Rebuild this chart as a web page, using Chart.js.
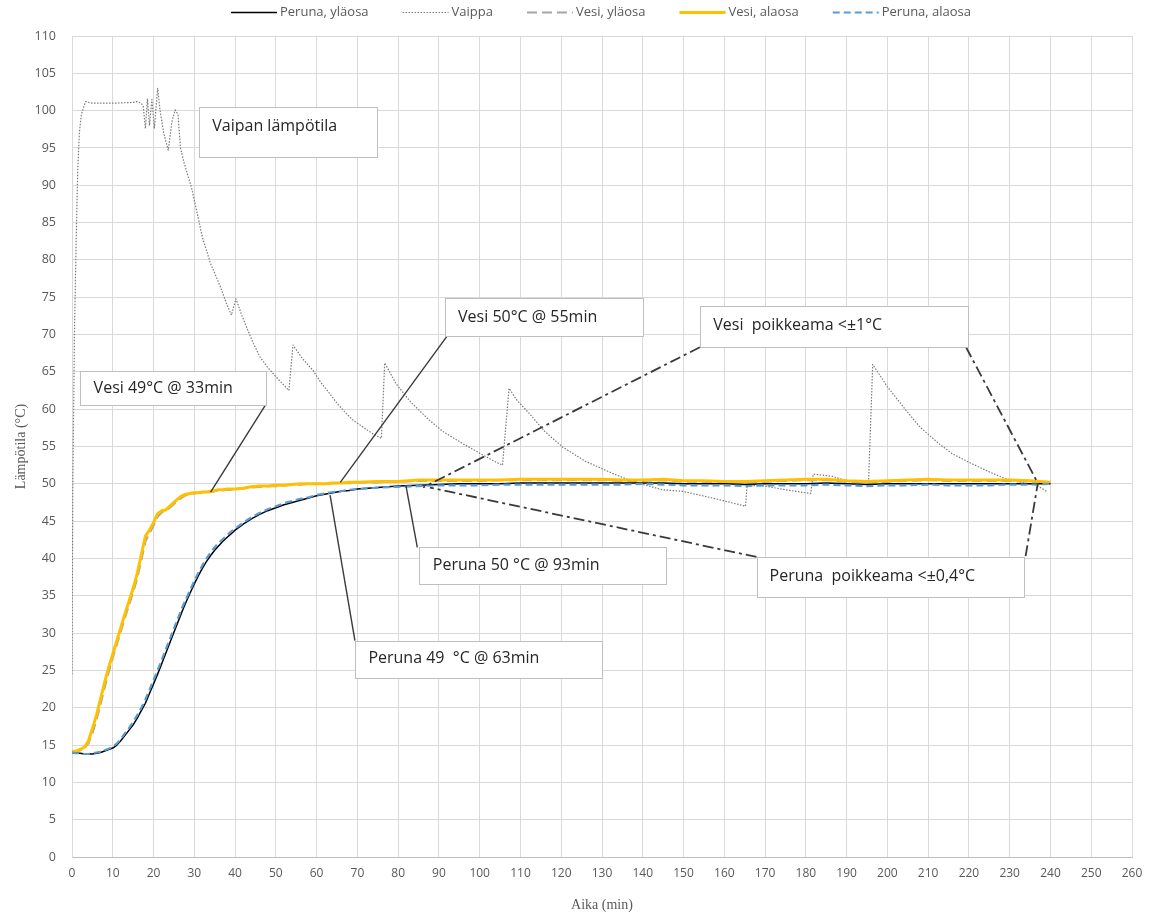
<!DOCTYPE html>
<html lang="fi">
<head>
<meta charset="utf-8">
<title>Lämpötila</title>
<script src="https://cdn.jsdelivr.net/npm/chart.js@4.4.1/dist/chart.umd.min.js"></script>
<style>
  html, body { margin: 0; padding: 0; background: #ffffff; }
  canvas { display: block; }
</style>
</head>
<body>
<canvas id="kaavio" width="1154" height="917"></canvas>
<script>
// Mittausajat (min) perunan ja veden antureille
const aika = [
  0,1,2,3,4,5,6,7,8,9,10,11,12,13,14,15,16,17,18,19,20,21,22,23,24,25,26,27,28,29,30,31,32,33,34,35,36,37,38,39,40,
  42,44,46,48,50,52,54,56,58,60,62,64,66,68,70,
  75,80,85,90,95,100,105,110,115,120,125,130,135,140,145,150,155,160,165,170,175,180,185,190,195,200,205,210,215,220,225,230,235,240
];

// Lämpötilat (°C)
const perunaYlaosa = [
  14.0,13.9,13.9,13.8,13.8,13.8,13.9,14.0,14.2,14.4,14.6,15.0,15.6,16.3,17.0,17.7,18.6,19.6,20.6,21.9,23.2,24.5,25.9,27.3,28.7,30.1,31.5,32.9,34.2,35.4,36.6,37.7,38.7,39.6,40.4,41.1,41.7,42.3,42.8,43.3,43.8,
  44.6,45.3,45.9,46.4,46.8,47.2,47.5,47.8,48.1,48.4,48.6,48.8,49.0,49.1,49.3,
  49.5,49.7,49.8,49.9,50.0,50.0,50.0,50.1,50.1,50.1,50.1,50.1,50.1,50.1,50.1,50.0,50.0,50.0,49.9,50.0,50.0,50.0,50.1,50.0,49.9,50.0,50.0,50.0,50.0,50.0,50.0,50.0,50.0,50.0
];

const vesiYlaosa = [
  14.0,14.1,14.3,14.6,15.2,16.6,18.4,20.5,22.7,24.8,26.7,28.5,30.3,32.1,33.8,35.5,37.4,39.8,42.3,43.4,44.4,45.6,46.2,46.4,46.8,47.3,47.8,48.2,48.5,48.6,48.7,48.8,48.8,48.9,48.9,49.0,49.1,49.1,49.2,49.2,49.3,
  49.4,49.5,49.6,49.7,49.7,49.8,49.9,49.9,50.0,50.0,50.0,50.1,50.1,50.1,50.2,
  50.2,50.3,50.4,50.4,50.4,50.4,50.5,50.5,50.5,50.5,50.5,50.5,50.4,50.4,50.5,50.3,50.3,50.2,50.2,50.3,50.4,50.5,50.5,50.3,50.2,50.3,50.4,50.5,50.4,50.4,50.4,50.4,50.3,50.1
];

const vesiAlaosa = [
  14.1,14.2,14.4,14.7,15.5,17.2,19.0,21.2,23.4,25.4,27.2,29.0,30.8,32.6,34.3,36.0,38.0,40.5,43.0,43.8,44.8,46.0,46.4,46.5,47.0,47.5,48.0,48.4,48.6,48.7,48.8,48.8,48.9,48.9,49.0,49.1,49.2,49.2,49.3,49.3,49.3,
  49.4,49.6,49.7,49.7,49.8,49.8,49.9,50.0,50.0,50.0,50.0,50.1,50.1,50.2,50.2,
  50.3,50.3,50.5,50.5,50.5,50.5,50.5,50.6,50.6,50.6,50.6,50.6,50.5,50.5,50.6,50.4,50.4,50.3,50.3,50.4,50.5,50.6,50.6,50.4,50.3,50.4,50.5,50.6,50.5,50.5,50.5,50.5,50.4,50.2
];

const perunaAlaosa = [
  14.0,13.9,13.9,13.8,13.8,13.9,14.0,14.1,14.3,14.5,14.8,15.2,15.8,16.6,17.3,18.1,19.0,20.0,21.1,22.4,23.7,25.0,26.4,27.8,29.2,30.6,32.0,33.4,34.6,35.8,37.0,38.1,39.1,40.0,40.8,41.5,42.1,42.6,43.1,43.6,44.0,
  44.8,45.5,46.1,46.6,47.0,47.4,47.7,48.0,48.2,48.5,48.7,48.9,49.0,49.2,49.3,
  49.5,49.6,49.7,49.8,49.8,49.8,49.9,49.9,49.9,49.9,49.9,49.9,49.9,50.0,49.9,49.8,49.8,49.8,49.7,49.8,49.8,49.8,49.9,49.8,49.7,49.8,49.8,49.9,49.8,49.8,49.8,49.9,49.9,50.0
];

// Vaipan lämpötila omilla mittausajoillaan
const vaippaAika = [
  0,0.2,0.6,1.0,1.4,1.8,2.3,3.3,5,10,15,16,17,17.5,18,18.5,19,19.6,20.2,21,21.6,22.5,23.6,24.5,25.3,26,26.6,27.5,
  29.4,31,32,34,36.4,38,39.1,40.2,41.5,42.8,44.5,46.1,48,50.1,53.2,54.2,56.5,59.1,61,63.2,65,67.3,69,71.4,73.5,75.9,
  76.7,79.5,83,87.7,91,95.8,100,104,105.6,107.2,109,112.2,116,120.4,126,132.6,138,144.9,149.7,157.9,165.2,165.6,170,175,
  181.2,181.8,186.6,190.3,194.8,195.4,196.4,200,204.5,208,212.6,216,220.7,225,228.9,232,236.6,239.3
];
const vaippa = [
  24.5,50,70,82,92,97,99.5,101.2,101.0,101.0,101.1,101.2,101.0,100.5,97.6,101.6,98.0,101.5,97.6,103.0,100.0,97.0,94.7,98.5,100.1,99.5,95.0,93.0,
  89.5,85.5,83.0,79.5,76.4,74.0,72.6,74.8,72.8,71.0,68.8,67.0,65.6,64.3,62.5,68.6,66.8,65.2,63.6,62.1,60.8,59.4,58.5,57.6,56.8,56.1,
  66.2,63.4,61.0,58.5,57.0,55.4,54.1,52.9,52.5,62.8,61.3,59.4,57.0,54.9,53.0,51.4,50.2,49.2,49.0,48.0,47.0,49.8,49.7,49.2,
  48.7,51.3,51.0,50.3,50.3,50.5,66.0,63.0,59.9,57.6,55.4,54.0,52.7,51.6,50.7,50.3,49.8,48.9
];

// Akselien rajat ja välit
const aikaAkseli = { min: 0, max: 260, vali: 10 };
const lampoAkseli = { min: 0, max: 110, vali: 5 };

// Selitelaatikot: laatikon kulmat [x0, yYlä, x1, yAla], tekstin alku ja osoitinviivat arvoina
const huomautukset = [
  { teksti: 'Vaipan lämpötila', laatikko: [31.2, 100.5, 74.8, 93.8], kohta: [34.4, 97.9], viivat: [], tyyli: 'yhtenainen' },
  { teksti: 'Vesi 49°C @ 33min', laatikko: [2.0, 65.1, 47.7, 60.5], kohta: [5.3, 62.8], viivat: [[47.4, 60.5, 34.0, 48.9]], tyyli: 'yhtenainen' },
  { teksti: 'Vesi 50°C @ 55min', laatikko: [91.5, 74.9, 140.0, 69.8], kohta: [94.7, 72.3], viivat: [[92.0, 69.8, 65.8, 50.2]], tyyli: 'yhtenainen' },
  { teksti: 'Vesi  poikkeama <±1°C', laatikko: [154.0, 73.8, 219.7, 68.3], kohta: [157.3, 71.2], viivat: [[154.0, 68.3, 86.1, 49.5], [219.3, 68.3, 236.9, 50.1]], tyyli: 'pistekatko' },
  { teksti: 'Peruna 50 °C @ 93min', laatikko: [85.0, 41.5, 145.7, 36.6], kohta: [88.5, 39.1], viivat: [[84.7, 41.5, 81.9, 49.8]], tyyli: 'yhtenainen' },
  { teksti: 'Peruna  poikkeama <±0,4°C', laatikko: [167.9, 40.2, 233.4, 34.8], kohta: [171.1, 37.6], viivat: [[167.9, 40.2, 87.8, 49.5], [233.9, 40.3, 236.9, 50.1]], tyyli: 'pistekatko' },
  { teksti: 'Peruna 49  °C @ 63min', laatikko: [69.3, 29.0, 129.9, 24.0], kohta: [72.7, 26.6], viivat: [[69.4, 29.0, 63.3, 48.5]], tyyli: 'yhtenainen' }
];

const pisteet = (xs, ys) => xs.map((x, i) => ({ x: x, y: ys[i] }));

const FONTTI = '"Open Sans", "Liberation Sans", sans-serif';
const SERIF = '"Liberation Serif", "DejaVu Serif", serif';
Chart.defaults.font.family = FONTTI;
Chart.defaults.color = '#595959';

// Huomautuslaatikot ja osoitinviivat piirretään sarjojen päälle
const huomautusPiirto = {
  id: 'huomautukset',
  afterDatasetsDraw(chart) {
    const { ctx, scales: { x, y } } = chart;
    ctx.save();
    huomautukset.forEach(h => {
      h.viivat.forEach(v => {
        ctx.beginPath();
        if (h.tyyli === 'pistekatko') {
          ctx.setLineDash([11, 4, 3, 4]);
          ctx.lineWidth = 1.8;
        } else {
          ctx.setLineDash([]);
          ctx.lineWidth = 1.4;
        }
        ctx.strokeStyle = '#3a3a3a';
        ctx.moveTo(x.getPixelForValue(v[0]), y.getPixelForValue(v[1]));
        ctx.lineTo(x.getPixelForValue(v[2]), y.getPixelForValue(v[3]));
        ctx.stroke();
      });
    });
    ctx.setLineDash([]);
    huomautukset.forEach(h => {
      const x0 = Math.round(x.getPixelForValue(h.laatikko[0])) + 0.5;
      const y0 = Math.round(y.getPixelForValue(h.laatikko[1])) + 0.5;
      const x1 = Math.round(x.getPixelForValue(h.laatikko[2])) + 0.5;
      const y1 = Math.round(y.getPixelForValue(h.laatikko[3])) + 0.5;
      ctx.fillStyle = '#ffffff';
      ctx.fillRect(x0, y0, x1 - x0, y1 - y0);
      ctx.strokeStyle = '#bfbfbf';
      ctx.lineWidth = 1;
      ctx.strokeRect(x0, y0, x1 - x0, y1 - y0);
      ctx.fillStyle = '#262626';
      ctx.font = '16px ' + FONTTI;
      ctx.textAlign = 'left';
      ctx.textBaseline = 'middle';
      ctx.fillText(h.teksti, x.getPixelForValue(h.kohta[0]), y.getPixelForValue(h.kohta[1]));
    });
    ctx.restore();
  }
};

// Selite ylälaitaan sarjojen viivatyyleillä
const selitePiirto = {
  id: 'selite',
  afterDraw(chart) {
    const ctx = chart.ctx;
    const sarjat = chart.data.datasets;
    ctx.save();
    ctx.font = '13px ' + FONTTI;
    const naytePituus = 46, vali = 3, erotin = 34;
    const leveydet = sarjat.map(d => ctx.measureText(d.label).width);
    const kokonais = leveydet.reduce((a, b) => a + b, 0) + sarjat.length * (naytePituus + vali) + (sarjat.length - 1) * erotin;
    let xp = 601 - kokonais / 2;
    const yp = 12.5;
    sarjat.forEach((d, i) => {
      ctx.beginPath();
      ctx.setLineDash(d.borderDash || []);
      ctx.lineWidth = d.borderWidth;
      ctx.strokeStyle = d.borderColor;
      ctx.moveTo(xp, yp);
      ctx.lineTo(xp + naytePituus, yp);
      ctx.stroke();
      ctx.setLineDash([]);
      ctx.fillStyle = '#595959';
      ctx.textAlign = 'left';
      ctx.textBaseline = 'middle';
      ctx.fillText(d.label, xp + naytePituus + vali, yp);
      xp += naytePituus + vali + leveydet[i] + erotin;
    });
    ctx.restore();
  }
};

new Chart(document.getElementById('kaavio'), {
  type: 'line',
  data: {
    datasets: [
      { label: 'Peruna, yläosa', data: pisteet(aika, perunaYlaosa), borderColor: '#000000', borderWidth: 1.5, borderDash: [], order: 2 },
      { label: 'Vaippa', data: pisteet(vaippaAika, vaippa), borderColor: '#7a7a7a', borderWidth: 1.2, borderDash: [1.5, 1.5], order: 5 },
      { label: 'Vesi, yläosa', data: pisteet(aika, vesiYlaosa), borderColor: '#a5a5a5', borderWidth: 2.2, borderDash: [10, 5], order: 4 },
      { label: 'Vesi, alaosa', data: pisteet(aika, vesiAlaosa), borderColor: '#ffc000', borderWidth: 3, borderDash: [], order: 3 },
      { label: 'Peruna, alaosa', data: pisteet(aika, perunaAlaosa), borderColor: '#5b9bd5', borderWidth: 2.2, borderDash: [7, 4], order: 1 }
    ]
  },
  options: {
    responsive: false,
    animation: false,
    devicePixelRatio: 1,
    parsing: false,
    elements: {
      point: { radius: 0, hoverRadius: 0 },
      line: { tension: 0, fill: false, borderCapStyle: 'butt', borderJoinStyle: 'round' }
    },
    layout: { padding: { top: 36, right: 22, bottom: 0, left: 0 } },
    plugins: {
      legend: { display: false },
      tooltip: { enabled: false }
    },
    scales: {
      x: {
        type: 'linear',
        min: aikaAkseli.min,
        max: aikaAkseli.max,
        ticks: { stepSize: aikaAkseli.vali, padding: 9, font: { size: 12 }, color: '#595959', maxRotation: 0, autoSkip: false },
        grid: { color: '#d9d9d9', lineWidth: 1, drawTicks: false },
        border: { color: '#bfbfbf' },
        title: { display: true, text: 'Aika (min)', font: { family: SERIF, size: 14 }, color: '#595959', padding: { top: 0, bottom: 3 } },
        afterFit(scale) { scale.height = 60; }
      },
      y: {
        type: 'linear',
        min: lampoAkseli.min,
        max: lampoAkseli.max,
        ticks: { stepSize: lampoAkseli.vali, padding: 16, font: { size: 12.5 }, color: '#595959', autoSkip: false },
        grid: { color: '#d9d9d9', lineWidth: 1, drawTicks: false },
        border: { color: '#d9d9d9' },
        title: { display: true, text: 'Lämpötila (°C)', font: { family: SERIF, size: 14 }, color: '#595959', padding: { top: 13, bottom: 0 } },
        afterFit(scale) { scale.width = 72; }
      }
    }
  },
  plugins: [huomautusPiirto, selitePiirto]
});
</script>
</body>
</html>
